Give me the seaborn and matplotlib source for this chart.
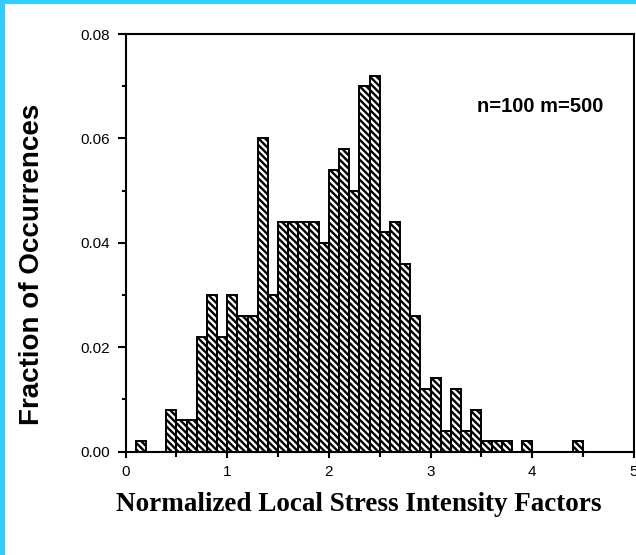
import numpy as np
import pandas as pd
import matplotlib
matplotlib.use("Agg")
import matplotlib.pyplot as plt
from matplotlib.patches import Rectangle
from matplotlib.ticker import MultipleLocator, FormatStrFormatter
import seaborn as sns

# Data: left edge of each 0.1-wide bin and fraction of occurrences
bin_left = [0.1, 0.4, 0.5, 0.6, 0.7, 0.8, 0.9, 1.0, 1.1, 1.2, 1.3, 1.4,
            1.5, 1.6, 1.7, 1.8, 1.9, 2.0, 2.1, 2.2, 2.3, 2.4, 2.5, 2.6,
            2.7, 2.8, 2.9, 3.0, 3.1, 3.2, 3.3, 3.4, 3.5, 3.6, 3.7, 3.9, 4.4]
fraction = [0.002, 0.008, 0.006, 0.006, 0.022, 0.030, 0.022, 0.030, 0.026,
            0.026, 0.060, 0.030, 0.044, 0.044, 0.044, 0.044, 0.040, 0.054,
            0.058, 0.050, 0.070, 0.072, 0.042, 0.044, 0.036, 0.026, 0.012,
            0.014, 0.004, 0.012, 0.004, 0.008, 0.002, 0.002, 0.002, 0.002,
            0.002]
bin_width = 0.1
x_ticks = [0, 1, 2, 3, 4, 5]
y_ticks = [0.00, 0.02, 0.04, 0.06, 0.08]

df = pd.DataFrame({"center": np.array(bin_left) + bin_width / 2,
                   "fraction": fraction})
edges = [round(i * bin_width, 2) for i in range(51)]

sns.set_style("ticks")
plt.rcParams["font.family"] = ["Liberation Sans", "DejaVu Sans"]
plt.rcParams["hatch.linewidth"] = 1.7
plt.rcParams["text.color"] = "black"
plt.rcParams["axes.labelcolor"] = "black"
plt.rcParams["xtick.color"] = "black"
plt.rcParams["ytick.color"] = "black"

fig = plt.figure(figsize=(6.36, 5.55), dpi=100)
fig.patch.set_facecolor("white")
ax = fig.add_axes([125.6 / 636, 1 - 451.5 / 555, (634 - 125.6) / 636, (451.5 - 34) / 555])

sns.histplot(data=df, x="center", weights="fraction", bins=edges, stat="count",
             color="white", edgecolor="black", linewidth=1.4, alpha=1,
             fill=True, ax=ax)
for p in ax.patches:
    p.set_hatch("\\" * 5)
    p.set_edgecolor("black")

ax.set_xlim(0, 5)
ax.set_ylim(0, 0.08)
ax.set_xticks(x_ticks)
ax.set_yticks(y_ticks)
ax.yaxis.set_major_formatter(FormatStrFormatter("%.2f"))
ax.xaxis.set_minor_locator(MultipleLocator(0.5))
ax.yaxis.set_minor_locator(MultipleLocator(0.01))

for s in ax.spines.values():
    s.set_visible(True)
    s.set_linewidth(1.5)
    s.set_color("black")

ax.tick_params(axis="x", which="major", direction="out", length=4.5, width=1.5,
               pad=5, labelsize=11, colors="black", labelcolor="black")
ax.tick_params(axis="x", which="minor", direction="out", length=3.5, width=1.5)
ax.tick_params(axis="y", which="major", direction="out", length=6, width=1.5,
               pad=5, labelsize=11, colors="black", labelcolor="black")
ax.tick_params(axis="y", which="minor", direction="out", length=3, width=1.5)

ax.set_ylabel("Fraction of Occurrences", fontsize=20, fontweight="bold",
              color="black", family=["Liberation Sans", "DejaVu Sans"])
ax.yaxis.label.set_verticalalignment("center")
ax.yaxis.set_label_coords(-0.184, 0.449)

ax.set_xlabel("Normalized Local Stress Intensity Factors", fontsize=19.5,
              fontweight="bold", color="black",
              family=["Liberation Serif", "DejaVu Serif"])
ax.xaxis.label.set_verticalalignment("center")
ax.xaxis.set_label_coords(0.459, -0.128)

ax.text(0.815, 0.826, "n=100 m=500", transform=ax.transAxes, ha="center",
        va="center", fontsize=14.5, fontweight="bold", color="black")

# cyan frame strips (top and left)
fig.patches.append(Rectangle((0, 1 - 4 / 555), 1, 4 / 555, transform=fig.transFigure,
                             facecolor="#33CCFF", edgecolor="none", zorder=10))
fig.patches.append(Rectangle((0, 0), 5 / 636, 1, transform=fig.transFigure,
                             facecolor="#33CCFF", edgecolor="none", zorder=10))

fig.savefig("out.png", dpi=100, facecolor="white")
